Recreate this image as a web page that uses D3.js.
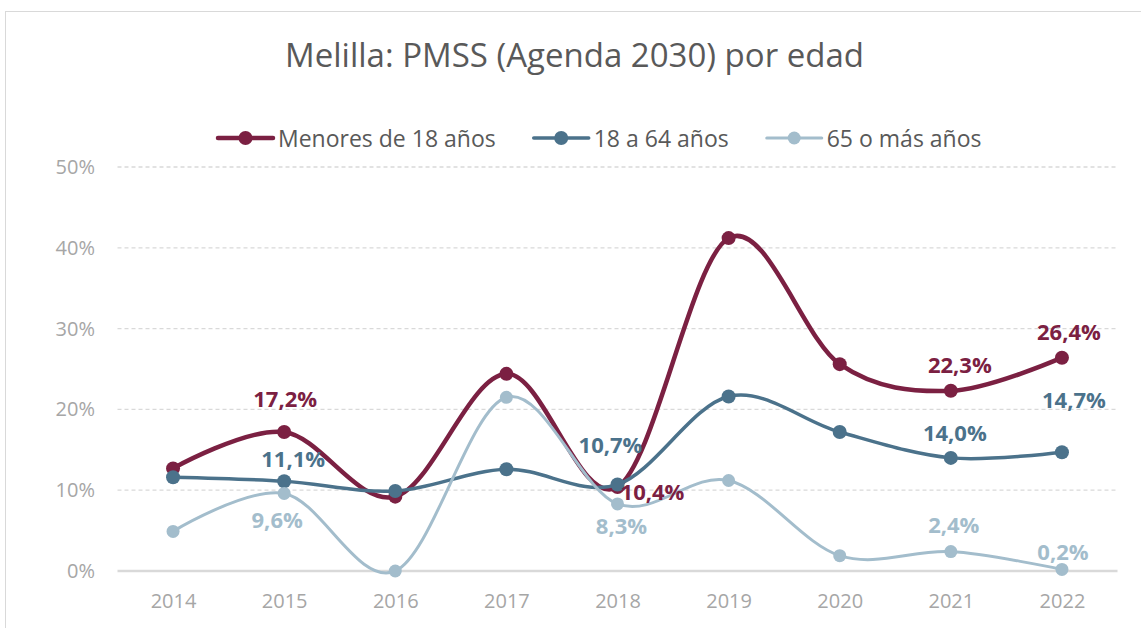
<!DOCTYPE html>
<html>
<head>
<meta charset="utf-8">
<script src="https://cdn.jsdelivr.net/npm/d3@7"></script>
<style>
  body { margin: 0; background: #fff; }
  svg { display: block; font-family: "Open Sans", sans-serif; }
</style>
</head>
<body>
<main></main>
<script>
// Data
const years = [2014, 2015, 2016, 2017, 2018, 2019, 2020, 2021, 2022];
const menores = [12.7, 17.2, 9.2, 24.4, 10.4, 41.2, 25.6, 22.3, 26.4];
const adultos = [11.6, 11.1, 9.9, 12.6, 10.7, 21.6, 17.2, 14.0, 14.7];
const mayores = [4.9, 9.6, 0.0, 21.5, 8.3, 11.2, 1.9, 2.4, 0.2];
const seriesNames = ['Menores de 18 años', '18 a 64 años', '65 o más años'];
const yTicks = [0, 10, 20, 30, 40, 50];
const labelYears = [2015, 2018, 2021, 2022];

// Label nudges [dx, dy] relative to point, one per labelled year
const labelOffsets = [
    [[1, -25], [35, 13], [9, -18], [7, -18]],
    [[9, -14], [-7, -32], [4, -17], [12, -44]],
    [[-7, 35], [4, 30], [3, -19], [1, -9]]
];

const series = [
    {name: seriesNames[0], values: menores, color: '#7b2042', width: 4.5, r: 7},
    {name: seriesNames[1], values: adultos, color: '#4b728b', width: 3.5, r: 7},
    {name: seriesNames[2], values: mayores, color: '#a3bdcc', width: 3, r: 6.5}
];

const width = 1141, height = 628;
const svg = d3.select('main').append('svg')
    .attr('width', width)
    .attr('height', height);

// Chart frame
svg.append('rect')
    .attr('x', 5.5).attr('y', 11.5)
    .attr('width', 1200).attr('height', 700)
    .attr('fill', '#fff')
    .attr('stroke', '#d9d9d9')
    .attr('stroke-width', 1);

const x = d3.scalePoint()
    .domain(years)
    .range([117.5, 1117.5])
    .padding(0.5);

const y = d3.scaleLinear()
    .domain([0, 50])
    .range([571, 167]);

// Gridlines
svg.append('g')
    .selectAll('line')
    .data(yTicks)
    .join('line')
    .attr('x1', 117.5).attr('x2', 1117.5)
    .attr('y1', d => y(d)).attr('y2', d => y(d))
    .attr('stroke', '#d9d9d9')
    .attr('stroke-width', d => d === 0 ? 2.5 : 1.3)
    .attr('stroke-dasharray', d => d === 0 ? null : '4,3');

// Axes
const yAxis = svg.append('g')
    .attr('transform', 'translate(117.5,0)')
    .call(d3.axisLeft(y).tickValues(yTicks).tickFormat(d => d + '%').tickSize(0).tickPadding(22.5));
const xAxis = svg.append('g')
    .attr('transform', 'translate(0,571)')
    .call(d3.axisBottom(x).tickSize(0).tickPadding(23));
[yAxis, xAxis].forEach(g => {
    g.select('.domain').remove();
    g.selectAll('text')
        .attr('fill', '#a6a6a6')
        .style('font-size', '20px')
        .style('font-family', '"Open Sans", sans-serif');
});

// Lines and markers
const line = d3.line()
    .x((d, i) => x(years[i]))
    .y(d => y(d))
    .curve(d3.curveCatmullRom.alpha(0));

series.forEach(s => {
    const g = svg.append('g');
    g.append('path')
        .datum(s.values)
        .attr('fill', 'none')
        .attr('stroke', s.color)
        .attr('stroke-width', s.width)
        .attr('stroke-linecap', 'round')
        .attr('d', line);
    g.selectAll('circle')
        .data(s.values)
        .join('circle')
        .attr('cx', (d, i) => x(years[i]))
        .attr('cy', d => y(d))
        .attr('r', s.r)
        .attr('fill', s.color);
});

// Data labels
const fmt = v => v.toFixed(1).replace('.', ',') + '%';
series.forEach((s, si) => {
    svg.append('g')
        .selectAll('text')
        .data(labelYears)
        .join('text')
        .attr('x', (yr, k) => x(yr) + labelOffsets[si][k][0])
        .attr('y', (yr, k) => y(s.values[years.indexOf(yr)]) + labelOffsets[si][k][1])
        .attr('text-anchor', 'middle')
        .attr('fill', s.color)
        .style('font-size', '22px')
        .style('font-weight', 700)
        .text(yr => fmt(s.values[years.indexOf(yr)]));
});

// Title
svg.append('text')
    .attr('x', 574.5).attr('y', 67)
    .attr('text-anchor', 'middle')
    .attr('fill', '#595959')
    .style('font-size', '33px')
    .text('Melilla: PMSS (Agenda 2030) por edad');

// Legend
const legend = svg.append('g');
let lx = 218;
series.forEach(s => {
    const item = legend.append('g').attr('transform', `translate(${lx},138)`);
    item.append('line')
        .attr('x1', 0).attr('x2', 55)
        .attr('stroke', s.color)
        .attr('stroke-width', s.width)
        .attr('stroke-linecap', 'round');
    item.append('circle')
        .attr('cx', 27.5).attr('r', s.r)
        .attr('fill', s.color);
    const t = item.append('text')
        .attr('x', 60).attr('y', 9)
        .attr('fill', '#595959')
        .style('font-size', '23px')
        .text(s.name);
    lx += 60 + t.node().getComputedTextLength() + 38;
});
</script>
</body>
</html>
